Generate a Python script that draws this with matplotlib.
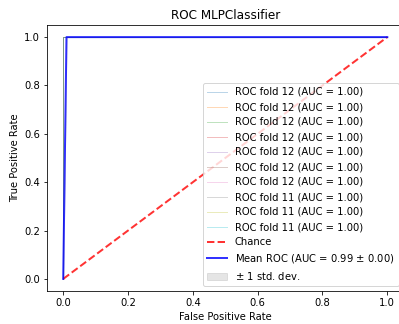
import matplotlib
matplotlib.use("Agg")
import matplotlib.pyplot as plt
import numpy as np

# Per-fold ROC curves (all perfect)
fold_labels = ["ROC fold 12 (AUC = 1.00)"] * 7 + ["ROC fold 11 (AUC = 1.00)"] * 3
fold_fpr = [[0.0, 0.0, 1.0]] * 10
fold_tpr = [[0.0, 1.0, 1.0]] * 10

chance_x = [0, 1]
chance_y = [0, 1]

mean_fpr = [0.0, 0.0101, 1.0]
mean_tpr = [0.0, 1.0, 1.0]
std_tpr = [0.0, 0.0, 0.0]
mean_label = "Mean ROC (AUC = 0.99 $\\pm$ 0.00)"

DPI = 72
fig = plt.figure(figsize=(399 / DPI, 324 / DPI), dpi=DPI)
ax = fig.add_axes([47 / 399, 33 / 324, 356.5 / 399, 266 / 324])

for fx, ty, lab in zip(fold_fpr, fold_tpr, fold_labels):
    ax.plot(fx, ty, lw=1, alpha=0.3, label=lab)

ax.plot(chance_x, chance_y, linestyle="--", lw=2, color="r", label="Chance", alpha=0.8)
ax.plot(mean_fpr, mean_tpr, color="b", lw=2, alpha=0.8, label=mean_label)
lo = np.maximum(np.array(mean_tpr) - np.array(std_tpr), 0)
hi = np.minimum(np.array(mean_tpr) + np.array(std_tpr), 1)
ax.fill_between(mean_fpr, lo, hi, color="grey", alpha=0.2, label="$\\pm$ 1 std. dev.")

ax.set_xlim([-0.05, 1.05])
ax.set_ylim([-0.05, 1.05])
ax.set_xlabel("False Positive Rate")
ax.set_ylabel("True Positive Rate")
ax.set_title("ROC MLPClassifier")
ax.legend(loc="lower right")

fig.savefig("out.png", dpi=DPI)
